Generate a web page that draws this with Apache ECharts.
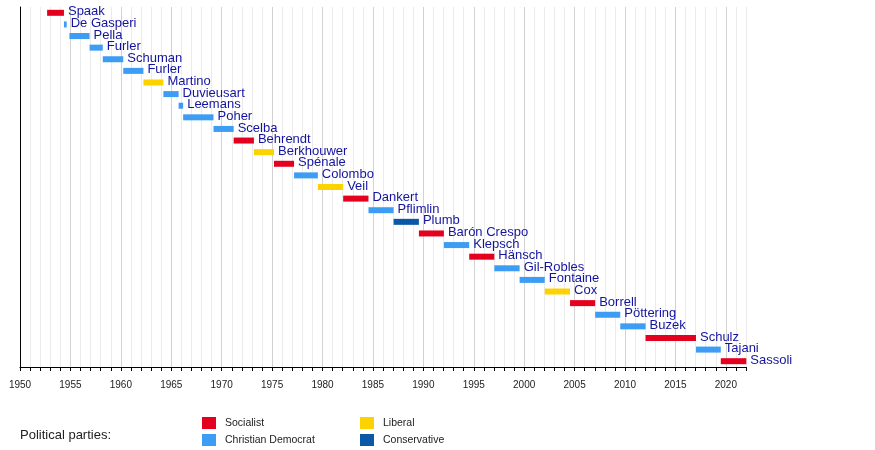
<!DOCTYPE html>
<html>
<head>
<meta charset="utf-8">
<script src="https://cdn.jsdelivr.net/npm/echarts@6/dist/echarts.min.js"></script>
<style>
  html, body { margin: 0; padding: 0; background: #fff; }
  #chart { width: 875px; height: 450px; }
</style>
</head>
<body>
<div id="chart"></div>
<script>
// presidents, top to bottom
const names = ["Spaak", "De Gasperi", "Pella", "Furler", "Schuman", "Furler", "Martino",
  "Duvieusart", "Leemans", "Poher", "Scelba", "Behrendt", "Berkhouwer", "Spénale",
  "Colombo", "Veil", "Dankert", "Pflimlin", "Plumb", "Barón Crespo", "Klepsch",
  "Hänsch", "Gil-Robles", "Fontaine", "Cox", "Borrell", "Pöttering", "Buzek",
  "Schulz", "Tajani", "Sassoli"];
const starts = [1952.69, 1954.36, 1954.9, 1956.9, 1958.21, 1960.24, 1962.24,
  1964.22, 1965.73, 1966.18, 1969.19, 1971.19, 1973.2, 1975.19,
  1977.18, 1979.54, 1982.05, 1984.56, 1987.05, 1989.56, 1992.04,
  1994.55, 1997.04, 1999.55, 2002.04, 2004.55, 2007.04, 2009.53,
  2012.04, 2017.04, 2019.5];
const ends = [1954.36, 1954.63, 1956.9, 1958.21, 1960.24, 1962.24, 1964.22,
  1965.73, 1966.18, 1969.19, 1971.19, 1973.2, 1975.19, 1977.18,
  1979.54, 1982.05, 1984.56, 1987.05, 1989.56, 1992.04, 1994.55,
  1997.04, 1999.55, 2002.04, 2004.55, 2007.04, 2009.53, 2012.04,
  2017.04, 2019.5, 2022.03];
const parties = ["Socialist", "Christian Democrat", "Christian Democrat", "Christian Democrat",
  "Christian Democrat", "Christian Democrat", "Liberal", "Christian Democrat",
  "Christian Democrat", "Christian Democrat", "Christian Democrat", "Socialist",
  "Liberal", "Socialist", "Christian Democrat", "Liberal", "Socialist",
  "Christian Democrat", "Conservative", "Socialist", "Christian Democrat",
  "Socialist", "Christian Democrat", "Christian Democrat", "Liberal", "Socialist",
  "Christian Democrat", "Christian Democrat", "Socialist", "Christian Democrat", "Socialist"];

const partyNames = ["Socialist", "Christian Democrat", "Liberal", "Conservative"];
const partyColors = ["#e4001f", "#3d9cf3", "#fcd200", "#0b58a6"];

const chart = echarts.init(document.getElementById("chart"));

function renderItem(params, api) {
  const p0 = api.coord([api.value(0), api.value(2)]);
  const p1 = api.coord([api.value(1), api.value(2)]);
  const h = 6;
  return {
    type: "group",
    children: [
      {
        type: "rect",
        shape: { x: p0[0], y: p0[1] - h / 2, width: p1[0] - p0[0], height: h },
        style: { fill: api.visual("color") }
      },
      {
        type: "text",
        style: {
          x: p1[0] + 4,
          y: p1[1] - 1,
          text: names[api.value(2)],
          fill: "#1414a0",
          font: "13px 'Liberation Sans', Arial, sans-serif",
          verticalAlign: "middle",
          align: "left"
        }
      }
    ]
  };
}

const series = partyNames.map((party, k) => {
  const data = [];
  names.forEach((n, i) => {
    if (parties[i] === party) data.push([starts[i], ends[i], i]);
  });
  return {
    name: party,
    type: "custom",
    renderItem: renderItem,
    itemStyle: { color: partyColors[k] },
    encode: { x: [0, 1], y: 2 },
    clip: false,
    silent: true,
    data: data
  };
});

const legendBase = {
  orient: "vertical",
  top: 417,
  height: 30,
  padding: 0,
  itemWidth: 14,
  itemHeight: 12,
  itemGap: 5,
  icon: "rect",
  selectedMode: false,
  textStyle: { fontSize: 10.5, color: "#222", padding: [0, 0, 0, 4] }
};

chart.setOption({
  animation: false,
  color: partyColors,
  textStyle: { fontFamily: "'Liberation Sans', Arial, sans-serif" },
  title: {
    text: "Political parties:",
    left: 20,
    top: 429,
    padding: 0,
    textStyle: { fontSize: 13, fontWeight: "normal", color: "#222" }
  },
  legend: [
    Object.assign({}, legendBase, { data: ["Socialist", "Christian Democrat"], left: 202 }),
    Object.assign({}, legendBase, { data: ["Liberal", "Conservative"], left: 360 })
  ],
  grid: { left: 20, right: 129, top: 7, bottom: 83 },
  xAxis: {
    type: "value",
    min: 1950,
    max: 2022,
    interval: 1,
    axisLine: { show: true, onZero: false, lineStyle: { color: "#000", width: 1 } },
    axisTick: { show: true, length: 4, lineStyle: { color: "#000" } },
    axisLabel: {
      show: true,
      margin: 13,
      fontSize: 10,
      color: "#222",
      formatter: v => (v % 5 === 0 ? String(v) : "")
    },
    splitLine: {
      show: true,
      lineStyle: { color: ["#d2d2d2", "#ebebeb", "#ebebeb", "#ebebeb", "#ebebeb"], width: 1 }
    }
  },
  yAxis: {
    type: "value",
    min: -0.5,
    max: names.length - 0.5,
    inverse: true,
    axisLine: { show: true, lineStyle: { color: "#000" } },
    axisTick: { show: false },
    axisLabel: { show: false },
    splitLine: { show: false }
  },
  series: series
});
</script>
</body>
</html>
